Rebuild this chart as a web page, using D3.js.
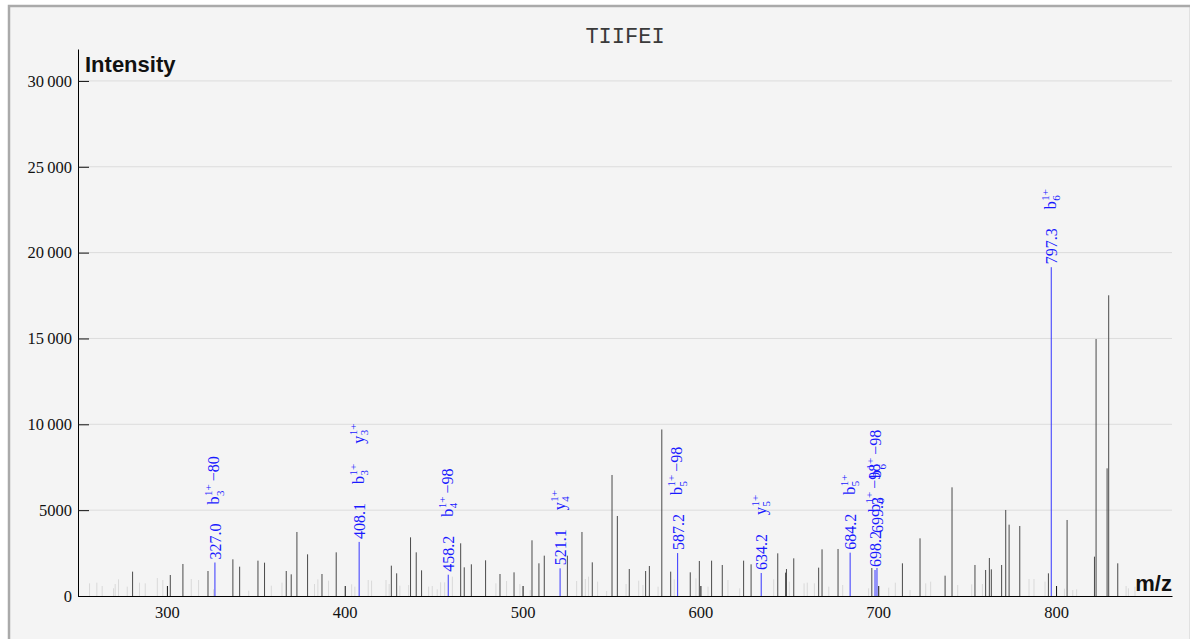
<!DOCTYPE html>
<html><head><meta charset="utf-8">
<script src="https://cdn.jsdelivr.net/npm/d3@7"></script>
<style>body{margin:0;background:#fff;} svg{display:block}</style>
</head><body><svg id="c" width="1190" height="639"></svg>
<script>
const title = "TIIFEI";
const xLabel = "m/z";
const yLabel = "Intensity";
const xTicks = [300, 400, 500, 600, 700, 800];
const xTickLabels = ["300", "400", "500", "600", "700", "800"];
const yTicks = [0, 5000, 10000, 15000, 20000, 25000, 30000];
const yTickLabels = ["0", "5000", "10\u2009000", "15\u2009000", "20\u2009000", "25\u2009000", "30\u2009000"];

// unmatched peaks
const peakMz = [280.7,301.9,309.0,323.1,337.1,340.9,351.2,354.9,367.1,369.9,373.1,379.1,387.2,395.2,
  426.2,429.2,437.0,440.2,443.2,465.2,467.2,471.2,479.2,487.3,495.2,505.3,509.2,512.2,525.2,533.4,539.2,
  550.3,553.3,560.0,569.2,571.3,578.3,583.3,594.3,599.4,606.3,612.3,624.3,628.5,643.5,647.9,648.4,652.5,
  666.5,668.4,677.4,696.4,713.6,723.5,737.6,741.5,754.4,760.4,762.5,763.6,769.4,771.7,773.6,779.6,795.7,
  806.2,821.6,822.5,828.7,829.6,834.7];
const peakInt = [1418,1223,1864,1456,2136,1708,2058,1941,1456,1262,3728,2427,1281,2543,
  1767,1320,3417,2543,1495,3068,1670,1845,2078,1281,1378,3243,1903,2349,2349,3728,1961,
  7048,4660,1573,1456,1748,9700,1418,1378,2039,2058,1806,2058,1845,2485,1360,1570,2194,
  1651,2718,2738,1630,1903,3359,1184,6330,1806,1515,2214,1553,1806,5010,4155,4078,1320,
  4427,2291,14970,7436,17515,1903];

// low-level noise peaks
const noiseMz = [256.5,260.6,263.6,270.0,270.9,272.8,277.7,284.6,287.8,294.6,297.7,313.7,317.8,326.2,346.0,
  358.7,364.7,383.0,384.9,390.9,403.9,405.7,413.2,415.1,423.2,425.0,431.0,435.9,447.2,449.2,452.0,453.9,
  456.2,460.5,485.0,491.0,498.5,504.3,530.4,535.3,537.1,542.2,547.3,558.2,565.3,567.7,576.2,585.3,597.5,
  604.3,615.5,622.1,641.2,650.0,658.3,660.1,664.1,672.2,680.0,694.6,705.9,709.6,717.9,726.7,729.5,744.7,
  752.6,758.6,784.8,787.6,793.8,804.7,809.4,811.6,839.4,840.7,844.4];
const noiseInt = [738,777,583,447,699,971,544,777,738,1048,932,990,932,388,311,
  602,777,699,971,893,680,544,932,893,932,699,602,641,544,583,388,796,
  796,1126,738,874,699,350,874,990,1126,835,291,699,893,641,544,971,1029,
  544,932,447,971,835,738,777,738,544,641,447,486,777,350,738,835,641,
  680,699,990,990,835,427,350,388,583,447,544];

// annotated (matched) peaks: [ion, subscript, superscript, suffix]
const annMz = [327.0, 408.1, 458.2, 521.1, 587.2, 634.2, 684.2, 698.2, 699.3, 797.3];
const annInt = [1950, 3150, 1240, 1612, 2500, 1340, 2524, 1514, 1631, 19150];
const annIons = [
  [["b","3","1+","\u221280"]],
  [["b","3","1+",""],["y","3","1+",""]],
  [["b","4","1+","\u221298"]],
  [["y","4","1+",""]],
  [["b","5","1+","\u221298"]],
  [["y","5","1+",""]],
  [["b","5","1+",""]],
  [["b","6","1+","\u221298"]],
  [["b","6","1+","\u221298"]],
  [["b","6","1+",""]]
];

const svg = d3.select("#c");
const W = 1190, H = 639;
const L = 78, R = 1172, T = 49, B = 596;
const x = d3.scaleLinear().domain([250, 865.2]).range([L, R]);
const y = d3.scaleLinear().domain([0, 31860]).range([B, T]);
const serif = "'Liberation Serif','Times New Roman',serif";

// frame
svg.append("rect").attr("x",0).attr("y",0).attr("width",W).attr("height",H).attr("fill","#fff");
svg.append("rect").attr("x",9).attr("y",6).attr("width",W-8).attr("height",H+10)
  .attr("fill","#f4f4f4").attr("stroke","#aaa").attr("stroke-width",2.5);

// grid
svg.append("g").selectAll("line").data(yTicks.filter(d=>d>0)).join("line")
  .attr("x1",L).attr("x2",R).attr("y1",d=>y(d)).attr("y2",d=>y(d))
  .attr("stroke","#dcdcdc").attr("stroke-width",1);

// title
svg.append("text").attr("x",(L+R)/2).attr("y",43).attr("text-anchor","middle")
  .attr("font-family","'Liberation Mono','Courier New',monospace").attr("font-size",22)
  .attr("fill","#3a3a3a").text(title);

// noise peaks
svg.append("g").selectAll("line").data(noiseMz.map((m,i)=>[m,noiseInt[i]])).join("line")
  .attr("x1",d=>x(d[0])).attr("x2",d=>x(d[0])).attr("y1",y(0)).attr("y2",d=>y(d[1]))
  .attr("stroke","#d9d9d9").attr("stroke-width",1);

// unmatched peaks
svg.append("g").selectAll("line").data(peakMz.map((m,i)=>[m,peakInt[i]])).join("line")
  .attr("x1",d=>x(d[0])).attr("x2",d=>x(d[0])).attr("y1",y(0)).attr("y2",d=>y(d[1]))
  .attr("stroke","#4a4a4a").attr("stroke-width",1);

// axes
const minorY = d3.range(0, 32000, 1000).filter(v=>v%5000!==0);
const minorX = d3.range(260, 866, 20).filter(v=>v%100!==0);
const gy = svg.append("g").attr("transform",`translate(${L},0)`);
gy.call(d3.axisLeft(y).tickValues(minorY).tickSize(-6).tickSizeOuter(0).tickFormat(""));
gy.call(d3.axisLeft(y).tickValues(yTicks).tickSize(-11).tickSizeOuter(0).tickPadding(6)
  .tickFormat((d,i)=>yTickLabels[i]));
gy.selectAll("text").attr("font-family",serif).attr("font-size",16.5).attr("fill","#111");
const gx = svg.append("g").attr("transform",`translate(0,${B})`);
gx.call(d3.axisBottom(x).tickValues(minorX).tickSize(-6).tickSizeOuter(0).tickFormat(""));
gx.call(d3.axisBottom(x).tickValues(xTicks).tickSize(-10).tickSizeOuter(0).tickPadding(10)
  .tickFormat((d,i)=>xTickLabels[i]));
gx.selectAll("text").attr("font-family",serif).attr("font-size",16.5).attr("fill","#111");
svg.selectAll(".domain").attr("stroke","#000");
svg.selectAll(".tick line").attr("stroke","#111");

// annotated peaks
const ann = svg.append("g");
let prevPx = -1e9, prevNumLen = 0;
annMz.forEach((mz,i)=>{
  const px = x(mz), py = y(annInt[i]);
  ann.append("line").attr("x1",px).attr("x2",px).attr("y1",y(0)).attr("y2",py)
    .attr("stroke","#3535ff").attr("stroke-width",1);
  const g = ann.append("g").attr("transform",`translate(${px},${py-3}) rotate(-90)`)
    .attr("fill","#1a1aff").attr("font-family",serif);
  // simple collision avoidance: push a label up when it sits on top of the previous one
  let cx = (px - prevPx < 8) ? prevNumLen - 4 : 0;
  const t = g.append("text").attr("x",cx).attr("y",6).attr("font-size",16).text(d3.format(".1f")(mz));
  const numLen = t.node().getComputedTextLength();
  cx += numLen + 19;
  prevPx = px; prevNumLen = numLen;
  annIons[i].forEach(ion=>{
    const m = g.append("text").attr("x",cx).attr("y",4.5).attr("font-size",16).text(ion[0]);
    const w = m.node().getComputedTextLength();
    const sup = g.append("text").attr("x",cx+w+0.5).attr("y",-2.5).attr("font-size",11).text(ion[2]);
    const sub = g.append("text").attr("x",cx+w+0.5).attr("y",9).attr("font-size",11).text(ion[1]);
    cx += w + 0.5 + Math.max(sup.node().getComputedTextLength(), sub.node().getComputedTextLength());
    if (ion[3]) {
      cx += 3;
      const s = g.append("text").attr("x",cx).attr("y",4.5).attr("font-size",16).text(ion[3]);
      cx += s.node().getComputedTextLength();
    }
    cx += 20;
  });
});

// axis labels
svg.append("text").attr("x",85).attr("y",72).attr("font-family","'Liberation Sans',Arial,sans-serif")
  .attr("font-weight","bold").attr("font-size",22).attr("fill","#111").text(yLabel);
svg.append("text").attr("x",R).attr("y",591).attr("text-anchor","end")
  .attr("font-family","'Liberation Sans',Arial,sans-serif")
  .attr("font-weight","bold").attr("font-size",22).attr("fill","#111").text(xLabel);
</script></body></html>
